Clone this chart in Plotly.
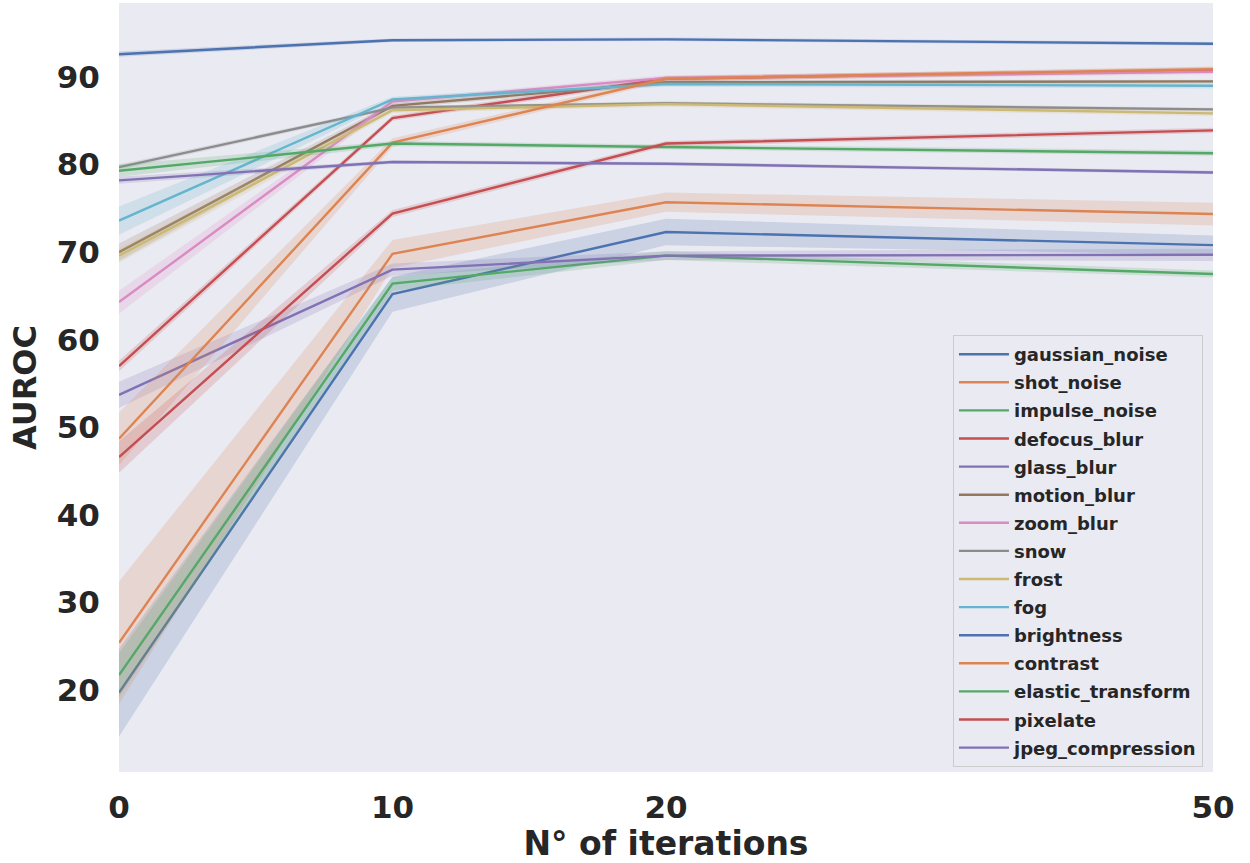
import plotly.graph_objects as go

# x categories (iterations) and their positions on the axis
iterations = ["0", "10", "20", "50"]
x_pos = [0, 1, 2, 4]

# mean AUROC per corruption
gaussian_noise = [19.7, 65.2, 72.3, 70.8]
shot_noise = [25.4, 69.8, 75.7, 74.35]
impulse_noise = [21.7, 66.4, 69.6, 67.5]
defocus_blur = [57.0, 85.3, 89.8, 90.8]
glass_blur = [53.7, 68.0, 69.6, 69.7]
motion_blur = [70.0, 86.7, 89.4, 89.5]
zoom_blur = [64.3, 87.2, 89.9, 90.6]
snow = [79.7, 86.5, 87.0, 86.3]
frost = [69.6, 86.2, 86.9, 85.85]
fog = [73.6, 87.45, 89.2, 89.0]
brightness = [92.6, 94.2, 94.3, 93.8]
contrast = [48.7, 82.5, 89.8, 90.9]
elastic_transform = [79.3, 82.4, 82.0, 81.3]
pixelate = [46.6, 74.4, 82.4, 83.9]
jpeg_compression = [78.2, 80.3, 80.1, 79.1]

# confidence band half-widths
gaussian_noise_ci = [5.0, 2.0, 1.5, 1.1]
shot_noise_ci = [7.0, 1.6, 1.1, 1.3]
impulse_noise_ci = [2.5, 0.8, 0.5, 0.4]
defocus_blur_ci = [0.6, 0.3, 0.3, 0.3]
glass_blur_ci = [1.5, 0.7, 0.5, 0.7]
motion_blur_ci = [1.0, 0.3, 0.3, 0.2]
zoom_blur_ci = [1.3, 0.3, 0.3, 0.3]
snow_ci = [0.3, 0.2, 0.2, 0.2]
frost_ci = [0.8, 0.3, 0.3, 0.3]
fog_ci = [1.6, 0.3, 0.3, 0.3]
brightness_ci = [0.3, 0.2, 0.2, 0.2]
contrast_ci = [3.0, 0.5, 0.3, 0.3]
elastic_transform_ci = [0.7, 0.3, 0.3, 0.3]
pixelate_ci = [1.8, 0.4, 0.3, 0.3]
jpeg_compression_ci = [0.4, 0.2, 0.2, 0.2]

names = ["gaussian_noise", "shot_noise", "impulse_noise", "defocus_blur", "glass_blur",
         "motion_blur", "zoom_blur", "snow", "frost", "fog", "brightness", "contrast",
         "elastic_transform", "pixelate", "jpeg_compression"]
means = [gaussian_noise, shot_noise, impulse_noise, defocus_blur, glass_blur,
         motion_blur, zoom_blur, snow, frost, fog, brightness, contrast,
         elastic_transform, pixelate, jpeg_compression]
cis = [gaussian_noise_ci, shot_noise_ci, impulse_noise_ci, defocus_blur_ci, glass_blur_ci,
       motion_blur_ci, zoom_blur_ci, snow_ci, frost_ci, fog_ci, brightness_ci, contrast_ci,
       elastic_transform_ci, pixelate_ci, jpeg_compression_ci]

palette = ["#4C72B0", "#DD8452", "#55A868", "#C44E52", "#8172B3",
           "#937860", "#DA8BC3", "#8C8C8C", "#CCB974", "#64B5CD"]


def rgba(h, a):
    h = h.lstrip("#")
    return f"rgba({int(h[0:2],16)},{int(h[2:4],16)},{int(h[4:6],16)},{a})"


fig = go.Figure()
for i, (name, m, c) in enumerate(zip(names, means, cis)):
    col = palette[i % len(palette)]
    upper = [a + b for a, b in zip(m, c)]
    lower = [a - b for a, b in zip(m, c)]
    fig.add_trace(go.Scatter(
        x=x_pos + x_pos[::-1], y=upper + lower[::-1],
        fill="toself", fillcolor=rgba(col, 0.2), line=dict(width=0),
        mode="lines", hoverinfo="skip", showlegend=False, legendgroup=name))
    fig.add_trace(go.Scatter(
        x=x_pos, y=m, mode="lines", name=name, legendgroup=name,
        line=dict(color=col, width=2.4)))

font_fam = "DejaVu Sans"
txt_col = "#262626"

fig.update_layout(
    width=1250, height=863,
    margin=dict(l=119, r=37, t=3, b=91),
    paper_bgcolor="white",
    plot_bgcolor="#EAEAF2",
    font=dict(family=font_fam, color=txt_col),
    legend=dict(
        x=0.7623, y=0.5683, xanchor="left", yanchor="top",
        bgcolor="rgba(234,234,242,0.8)", bordercolor="#CCCCCC", borderwidth=1,
        font=dict(family=font_fam, size=18, color=txt_col, weight="bold"),
        tracegroupgap=1.7, itemwidth=50,
    ),
    xaxis=dict(
        range=[0, 4], tickvals=x_pos, ticktext=iterations,
        showgrid=False, zeroline=False, showline=False,
        ticks="outside", ticklen=8, tickcolor="rgba(0,0,0,0)",
        tickfont=dict(family=font_fam, size=31, color=txt_col, weight="bold"),
        title=dict(text="N° of iterations", standoff=4,
                   font=dict(family=font_fam, size=33, color=txt_col, weight="bold")),
    ),
    yaxis=dict(
        range=[10.64, 98.45], tickvals=[20, 30, 40, 50, 60, 70, 80, 90],
        showgrid=False, zeroline=False, showline=False,
        ticks="outside", ticklen=12, tickcolor="rgba(0,0,0,0)",
        tickfont=dict(family=font_fam, size=31, color=txt_col, weight="bold"),
        title=dict(text="AUROC", standoff=10,
                   font=dict(family=font_fam, size=32, color=txt_col, weight="bold")),
    ),
)

fig.write_html("out.html")
